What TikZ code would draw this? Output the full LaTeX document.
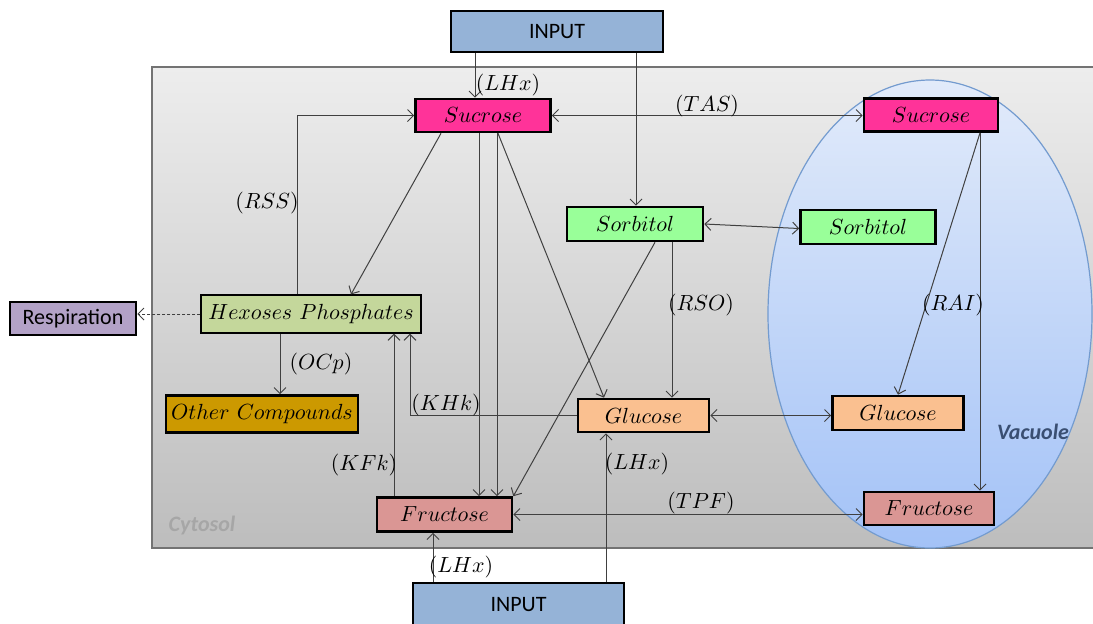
\documentclass[tikz,border=0pt]{standalone}
\usepackage{fontspec}
\newfontfamily\calibri{Carlito}
\usetikzlibrary{arrows.meta}

\definecolor{inblue}{HTML}{95B3D7}
\definecolor{sucpink}{HTML}{FF3399}
\definecolor{sorgreen}{HTML}{99FF99}
\definecolor{hexgreen}{HTML}{C4D79B}
\definecolor{respurple}{HTML}{B3A2C7}
\definecolor{othergold}{HTML}{CC9900}
\definecolor{glupeach}{HTML}{FAC090}
\definecolor{frurose}{HTML}{DA9694}
\definecolor{cytotop}{HTML}{EDEDED}
\definecolor{cytobot}{HTML}{BDBDBD}
\definecolor{vactop}{HTML}{E2EBFA}
\definecolor{vacbot}{HTML}{A3C2F7}
\definecolor{vacedge}{HTML}{739BCF}
\definecolor{vactext}{HTML}{3A4F72}

\begin{document}
\begin{tikzpicture}[x=0.5pt,y=-0.5pt,
  box/.style={draw=black,line width=1.3pt,inner sep=0pt,minimum height=16.5pt,
    font=\fontsize{11}{13}\selectfont},
  sansbox/.style={box,font=\calibri\fontsize{11}{13}\selectfont},
  conn/.style={draw=black!75,line width=0.5pt,-{Straight Barb[length=3pt,width=6pt]}},
  both/.style={conn,{Straight Barb[length=3pt,width=6pt]}-{Straight Barb[length=3pt,width=6pt]}},
  lab/.style={inner sep=0pt,font=\fontsize{11}{13}\selectfont}]

\useasboundingbox (0,0) rectangle (1093,623);
\clip (0,0) rectangle (1093,623);

% compartments
\shade[top color=cytotop,bottom color=cytobot,draw=black!55,line width=0.7pt]
  (152,67) rectangle (1110,548);
\shade[top color=vactop,bottom color=vacbot,draw=vacedge,line width=0.6pt]
  (930,314) ellipse (162 and 234);
\node[font=\calibri\bfseries\itshape\fontsize{11}{13}\selectfont,text=black!35]
  (cyto) at (202,525) {Cytosol};
\node[font=\calibri\bfseries\itshape\fontsize{11}{13}\selectfont,text=vactext]
  (vac) at (1033,432) {Vacuole};

% metabolite pools
\node[sansbox,fill=inblue,minimum width=106pt,minimum height=20.5pt] (inTop) at (557,31.5) {INPUT};
\node[sansbox,fill=inblue,minimum width=105.5pt,minimum height=21.5pt] (inBot) at (518.5,604.5) {INPUT};
\node[box,fill=sucpink,minimum width=67.5pt] (sucC) at (483,115.5) {$Sucrose$};
\node[box,fill=sucpink,minimum width=67pt] (sucV) at (931,115) {$Sucrose$};
\node[box,fill=sorgreen,minimum width=68pt,minimum height=17pt] (sorC) at (635,224) {$Sorbitol$};
\node[box,fill=sorgreen,minimum width=67.5pt,minimum height=17pt] (sorV) at (868,227) {$Sorbitol$};
\node[box,fill=hexgreen,line width=0.6pt,minimum width=110pt,minimum height=19pt] (hex) at (311,314) {$Hexoses\ Phosphates$};
\node[sansbox,fill=respurple,minimum width=63pt] (resp) at (73,318.5) {Respiration};
\node[box,fill=othergold,minimum width=96pt,minimum height=18.5pt] (other) at (262,414) {$Other\ Compounds$};
\node[box,fill=glupeach,minimum width=65.5pt] (gluC) at (643.5,415.5) {$Glucose$};
\node[box,fill=glupeach,minimum width=65.5pt,minimum height=17pt] (gluV) at (898,413) {$Glucose$};
\node[box,fill=frurose,minimum width=67.5pt,minimum height=17pt] (fruC) at (444.5,514.5) {$Fructose$};
\node[box,fill=frurose,minimum width=65pt] (fruV) at (929,508.5) {$Fructose$};

% columns used by vertical connectors
\coordinate (colA) at (475,0);
\coordinate (colB) at (636,0);
\coordinate (colRSS) at (297,0);
\coordinate (colF1) at (479,0);
\coordinate (colF2) at (497,0);
\coordinate (colRSO) at (672,0);
\coordinate (colKHk) at (410,0);
\coordinate (colKFk) at (394,0);
\coordinate (colOCp) at (280,0);
\coordinate (colLF) at (433,0);
\coordinate (colLG) at (606,0);
\coordinate (colV) at (980,0);

% fluxes
\draw[conn] (inTop.south -| colA) -- (sucC.north -| colA);
\draw[conn] (inTop.south -| colB) -- (sorC.north -| colB);
\draw[both] (sucC.east) -- (sucC.east -| sucV.west);
\draw[conn] (hex.north -| colRSS) |- (sucC.west);
\draw[conn] ([xshift=-21pt]sucC.south) -- ([xshift=20pt]hex.north);
\draw[conn] (sucC.south -| colF1) -- (fruC.north -| colF1);
\draw[conn] (sucC.south -| colF2) -- (fruC.north -| colF2);
\draw[conn] ([xshift=7.5pt]sucC.south) -- ([xshift=-19.75pt]gluC.north);
\draw[conn] ([xshift=10pt]sorC.south) -- (fruC.north east);
\draw[conn] (sorC.south -| colRSO) -- (gluC.north -| colRSO);
\draw[both] (sorC.east) -- ([yshift=-0.75pt]sorV.west);
\draw[both] (gluC.east) -- (gluC.east -| gluV.west);
\draw[conn] (gluC.west) -| (hex.south -| colKHk);
\draw[conn] (fruC.north -| colKFk) -- (hex.south -| colKFk);
\draw[conn] (hex.south -| colOCp) -- (other.north -| colOCp);
\draw[conn,dashed,dash pattern=on 1.5pt off 1pt] (hex.west) -- (hex.west -| resp.east);
\draw[conn] (inBot.north -| colLF) -- (fruC.south -| colLF);
\draw[conn] (inBot.north -| colLG) -- (gluC.south -| colLG);
\draw[both] (fruC.east) -- (fruC.east -| fruV.west);
\draw[conn] ([xshift=24.5pt]sucV.south) -- (gluV.north);
\draw[conn] (sucV.south -| colV) -- (fruV.north -| colV);

% enzyme labels
\node[lab] (lLHxA) at (508,85) {$(LHx)$};
\node[lab] (lTAS) at (707,106) {$(TAS)$};
\node[lab] (lRSS) at (267,203) {$(RSS)$};
\node[lab] (lRSO) at (701,305) {$(RSO)$};
\node[lab] (lOCp) at (321,364) {$(OCp)$};
\node[lab] (lKHk) at (446,405) {$(KHk)$};
\node[lab] (lKFk) at (364,465) {$(KFk)$};
\node[lab] (lLHxB) at (461,567) {$(LHx)$};
\node[lab] (lLHxC) at (637,464) {$(LHx)$};
\node[lab] (lTPF) at (701,503) {$(TPF)$};
\node[lab] (lRAI) at (953,305) {$(RAI)$};
\end{tikzpicture}
\end{document}
